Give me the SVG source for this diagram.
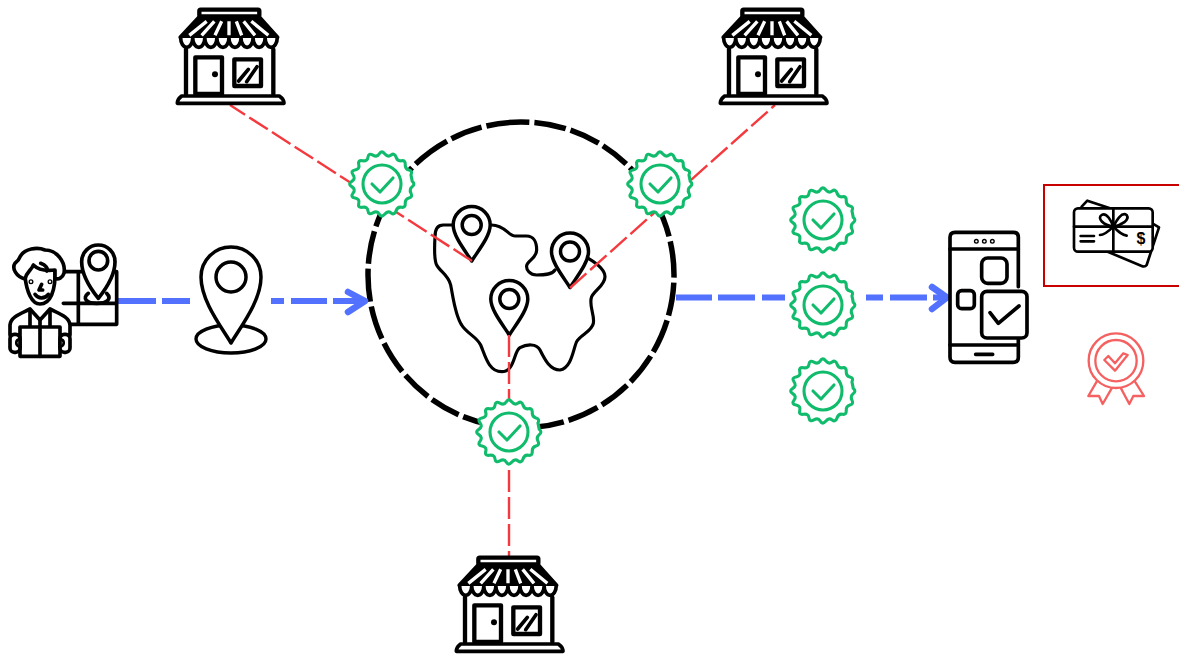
<svg xmlns="http://www.w3.org/2000/svg" width="1179" height="655" viewBox="0 0 1179 655">
<style>
.k{fill:none;stroke:#000;stroke-linecap:round;stroke-linejoin:round}
.w{fill:#fff}
.g{fill:none;stroke:#10bc6c;stroke-width:3.100;stroke-linejoin:round;stroke-linecap:round}
.r{fill:none;stroke:#f43a3f;stroke-width:2.400;stroke-dasharray:22 5}
.b{fill:none;stroke:#5271ff;stroke-width:6}
.a{stroke-linecap:round;stroke-linejoin:round;stroke-width:6.500}
.c{fill:none;stroke:#f56060;stroke-linejoin:round;stroke-linecap:round}
</style>
<defs>
<symbol id="badge" overflow="visible" viewBox="-40 -40 80 80" width="80" height="80">
<path class="g" style="fill:#fff" d="M30.25 -2.65Q33.500 0 30.25 2.65T28.95 9.15T26.95 14T23.25 19.5T19.5 23.25T14 26.95T9.15 28.95T2.65 30.25T-2.65 30.25T-9.15 28.95T-14 26.95T-19.5 23.25T-23.25 19.5T-26.95 14T-28.95 9.15T-30.25 2.65T-30.25 -2.65T-28.95 -9.15T-26.95 -14T-23.25 -19.5T-19.5 -23.25T-14 -26.95T-9.15 -28.95T-2.65 -30.25T2.65 -30.25T9.15 -28.95T14 -26.95T19.5 -23.25T23.25 -19.5T26.95 -14T28.95 -9.15Z"/>
<circle class="g" r="19"/>
<path class="g" d="M-10 0L-2 8L11 -6"/>
</symbol>
<g id="store" class="k" stroke-width="13">
<rect x="118" y="29" width="180" height="20" rx="4"/>
<path d="M118 52L62 112H352L298 52Z" fill="#000"/>
<path d="M140 64L88 106M163 64L125 106M185 64L165 106M207 64V106M229 64L245 106M251 64L285 106M274 64L325 106" stroke="#fff" stroke-width="10" stroke-linecap="butt"/>
<path class="w" stroke-width="11" d="M62 114a18.100 28 0 0 0 36.200 0a18.100 28 0 0 0 36.200 0a18.100 28 0 0 0 36.200 0a18.100 28 0 0 0 36.200 0a18.100 28 0 0 0 36.200 0a18.100 28 0 0 0 36.200 0a18.100 28 0 0 0 36.200 0a18.100 28 0 0 0 36.200 0"/>
<path d="M78 148V282M340 148V282"/>
<rect class="w" x="106" y="172" width="80" height="110"/>
<circle cx="165" cy="223" r="9" fill="#000" stroke="none"/>
<rect x="223" y="178" width="80" height="80"/>
<path d="M236 243L265 208M260 245L291 200" stroke-width="11"/>
<path class="w" stroke-width="11" d="M65 288H358Q372 298 372 310H52Q52 298 65 288Z"/>
</g>
<g id="pinS">
<path class="k w" stroke-width="3.500" d="M0 36C-7 25 -18.500 11 -18.500 0A18.500 18.500 0 0 1 18.500 0C18.500 11 7 25 0 36Z"/>
<circle class="k" stroke-width="3.500" r="9.500"/>
</g>
</defs>

<g id="hub">
<circle cx="521" cy="275" r="153" fill="none" stroke="#000" stroke-width="5.500" stroke-dasharray="2.700 5 33.400 5 34.400 5 32.600 5 32 5 31.800 5 32.300 5 29.600 5 30.700 5 30.700 5 31 5 33.600 5 33.900 5 33.100 5 33.100 5 32.300 5 32.300 5 39 5 32.300 5 43.300 5 32 5 31 5 29.600 5 37.600 5 37.600 5 35 5"/>
</g>
<g id="map">
<path class="k" transform="translate(420 195) scale(.33333)" stroke-width="9.500" d="M100 90H70C50 90 45 105 45 125C43 160 42 195 50 210C60 230 85 240 92 270C100 310 105 360 125 390C140 415 170 425 182 450C195 480 205 530 245 530C285 530 280 470 300 458C320 447 350 445 360 465C375 495 390 525 420 525C455 520 460 460 470 440C480 420 515 410 520 385C525 360 505 330 515 305C525 285 555 270 555 245C555 225 530 205 505 190M405 225C395 240 370 240 350 240C330 240 318 225 320 212C322 197 350 190 350 165C350 140 340 123 320 123H285C265 123 255 90 215 90"/>
</g>
<use id="pin-a" href="#pinS" x="471.700" y="225"/>
<use id="pin-b" href="#pinS" x="570" y="251.500"/>
<use id="pin-c" href="#pinS" x="509.300" y="299"/>

<g id="connectors">
<path class="r" d="M472 261L230 105"/>
<path class="r" d="M570 288L775 105"/>
<path class="r" d="M509 335V557"/>
<path class="b" d="M118 301H156M162 301H190M271 301H284M291 301H327M333 301H362"/>
<path class="b a" d="M348 292L365 301L348 312"/>
<path class="b" d="M676 297.500H712M718 297.500H755M762 297.500H785M866 297.500H883M890 297.500H927M933 297.500H945"/>
<path class="b a" d="M932 287L947 297.500L932 309"/>
</g>

<use id="store-a" href="#store" transform="translate(160 0) scale(.33333)"/>
<use id="store-b" href="#store" transform="translate(703 0) scale(.33333)"/>
<use id="store-c" href="#store" transform="translate(439 548) scale(.33333)"/>

<use id="badge-a" href="#badge" x="342" y="144"/>
<use id="badge-b" href="#badge" x="620" y="144"/>
<use id="badge-c" href="#badge" x="469" y="392"/>
<use id="badge-d" href="#badge" x="783" y="180"/>
<use id="badge-e" href="#badge" x="783" y="265"/>
<use id="badge-f" href="#badge" x="783" y="351"/>

<g id="location">
<ellipse class="k" stroke-width="3.400" cx="231" cy="339" rx="35" ry="14"/>
<path class="k w" stroke-width="3.500" d="M231 343C220 325 201 300 201 277A30 30 0 0 1 261 277C261 300 242 325 231 343Z"/>
<circle class="k" stroke-width="3.500" cx="231" cy="277" r="15"/>
</g>

<g id="person" class="k" transform="translate(0 235) scale(.33333)" stroke-width="11">
<path d="M190 110H350V268H190M235 110V268M190 205H350"/>
<path class="w" d="M295 190C275 165 245 125 245 80A50 50 0 0 1 345 80C345 125 315 165 295 190Z"/>
<circle cx="295" cy="77" r="28"/>
<path d="M265 175C245 190 260 205 290 205C325 205 335 190 320 175"/>
<path class="w" d="M75 125C80 170 95 207 120 207C150 207 168 170 165 100L95 90Z"/>
<path class="w" d="M75 132C48 125 35 100 45 85C55 78 58 72 62 62C75 42 110 35 135 45C170 45 198 80 192 115C188 128 175 135 165 130C165 120 165 110 165 105C140 108 115 105 100 90C95 105 80 110 75 132Z"/>
<path d="M122 85C137 90 145 100 140 108M125 148L117 165H128M105 178C115 193 135 192 145 178"/>
<circle cx="93" cy="140" r="2"/><circle cx="150" cy="140" r="2"/>
<path class="w" d="M30 300V270C32 245 65 235 90 222L120 255L150 222C175 235 208 245 210 270V300Z"/>
<path d="M90 225V275M150 225V275M120 255V275"/>
<path class="w" d="M60 276H180V364H60Z"/>
<path d="M120 276V364"/>
<rect class="w" x="30" y="298" width="30" height="54" rx="13"/>
<rect class="w" x="180" y="298" width="30" height="54" rx="13"/>
<path d="M60 312C45 312 45 335 60 335M180 312C195 312 195 335 180 335" stroke-width="8"/>
</g>

<g id="phone" class="k" transform="translate(935 180) scale(.33333)" stroke-width="11">
<path d="M250 320V172Q250 157 235 157H60Q45 157 45 172V532Q45 547 60 547H235Q250 547 250 532V475"/>
<path d="M45 207H250M45 495H250M122 523H173"/>
<circle cx="124" cy="184" r="2"/><circle cx="148" cy="184" r="2"/><circle cx="172" cy="184" r="2"/>
<rect x="140" y="234" width="76" height="76" rx="18"/>
<rect x="68" y="332" width="50" height="54" rx="12"/>
<rect x="140" y="334" width="136" height="140" rx="16" class="w"/>
<path d="M165 398L190 430L252 378"/>
</g>

<g id="gift-box">
<rect x="1044" y="185" width="136" height="101" fill="none" stroke="#c80000" stroke-width="2"/>
</g>
<g id="gift" class="k" transform="translate(935 180) scale(.33333)" stroke-width="8">
<path d="M440 80L457 62L525 85M652 130L672 142L635 255Q630 262 620 258L520 216"/>
<rect class="w" x="417" y="85" width="236" height="130" rx="12"/>
<path d="M417 140H653M535 85V215M437 168H477M437 184H477"/>
<path d="M535 140C505 135 485 115 500 105C515 95 530 125 535 140C545 120 560 95 575 105C585 120 560 135 535 140ZM535 140C520 155 505 165 495 165M535 140C550 155 560 165 575 167"/>
</g>
<text x="1141" y="244" font-family="Liberation Sans, sans-serif" font-size="16" font-weight="700" text-anchor="middle">$</text>

<g id="medal" class="c" transform="translate(935 180) scale(.33333)" stroke-width="7">
<circle cx="543" cy="542" r="82"/>
<circle cx="543" cy="542" r="62"/>
<path d="M508 540L540 572L578 525L565 520L540 550L520 528Z"/>
<path d="M485 605L460 648L492 648L503 672L530 625M600 605L627 648L595 648L583 672L558 625"/>
</g>
</svg>
